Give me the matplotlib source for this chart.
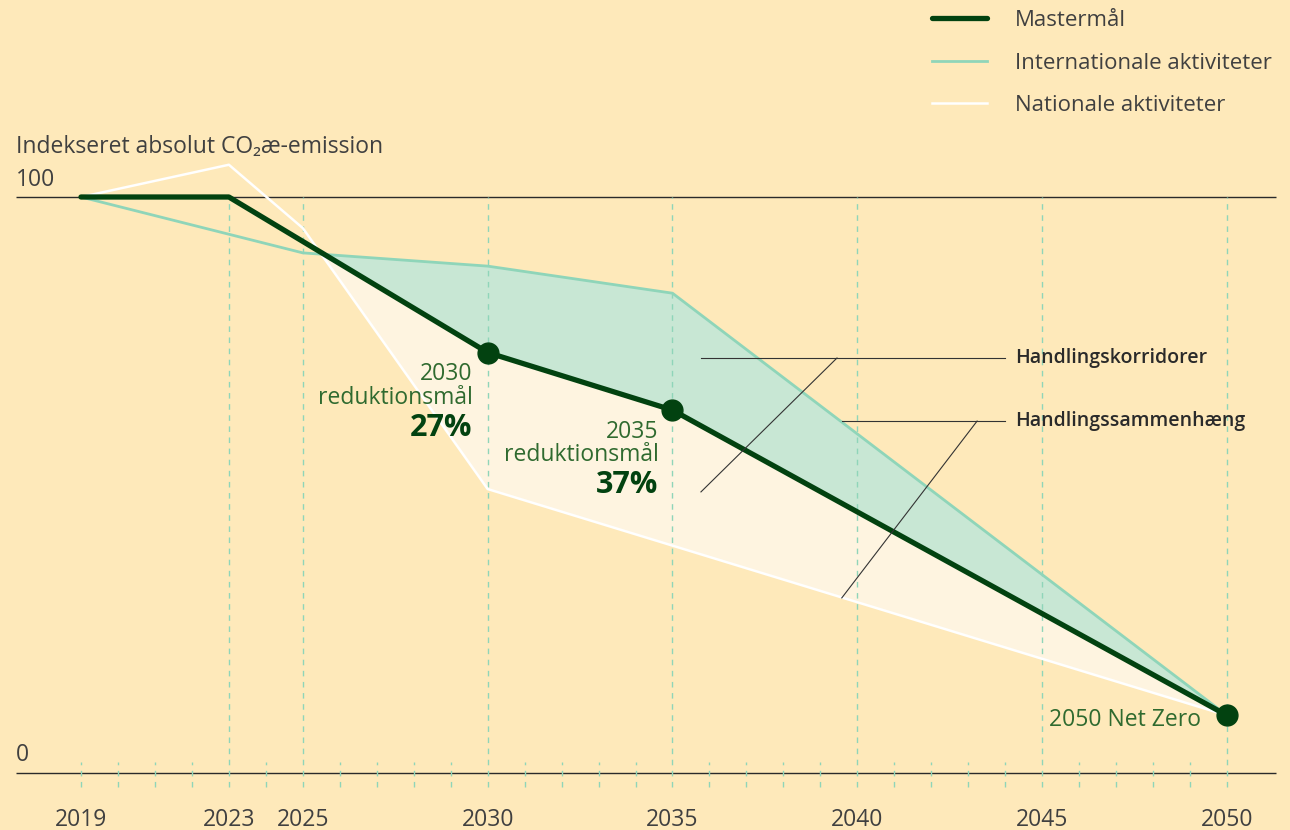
import matplotlib
matplotlib.use('Agg')
import matplotlib.pyplot as plt
import numpy as np

plt.rcParams['font.family'] = ['Open Sans', 'DejaVu Sans']

# data
master_years = [2019, 2023, 2030, 2035, 2050]
master_vals = [100, 100, 73, 63, 10]
intl_years = [2019, 2025, 2030, 2035, 2050]
intl_vals = [100, 90.3, 88.0, 83.3, 10]
nat_years = [2019, 2023, 2025, 2030, 2050]
nat_vals = [100, 105.6, 94.6, 49.3, 10]
goal_years = [2030, 2035, 2050]
goal_vals = [73, 63, 10]
label_years = [2019, 2023, 2025, 2030, 2035, 2040, 2045, 2050]
grid_years = [2023, 2025, 2030, 2035, 2040, 2045, 2050]

bg = '#FEE9BA'
dark = '#024210'
teal = '#8FD5B9'
green_fill = '#C8E7D4'
cream_fill = '#FEF4E0'
txt = '#404040'
gtxt = '#2f6a2f'

fig = plt.figure(figsize=(12.9, 8.3), dpi=100, facecolor=bg)
ax = fig.add_axes([0, 0, 1, 1])
ax.set_facecolor(bg)
px = 36.97  # pixels per year
py = 5.76   # pixels per unit
ax.set_xlim(2019 - 81 / px, 2050 + (1290 - 1227) / px)
ax.set_ylim(-(830 - 773) / py, 773 / py)
ax.axis('off')

# fills between series
xs = np.array(sorted(set(master_years + intl_years + nat_years)), dtype=float)
m = np.interp(xs, master_years, master_vals)
i = np.interp(xs, intl_years, intl_vals)
n = np.interp(xs, nat_years, nat_vals)
ax.fill_between(xs, m, i, where=i >= m, interpolate=True, color=green_fill, lw=0, zorder=1)
ax.fill_between(xs, n, m, where=m >= n, interpolate=True, color=cream_fill, lw=0, zorder=1)

# grid / ticks
x0, x1 = 2019 - 65 / px, 2050 + 49 / px
ax.hlines([0, 100], x0, x1, color='#2a2a2a', lw=1, zorder=2)
for yr in range(2019, 2051):
    if yr in grid_years:
        ax.vlines(yr, -14 / py, 100, color=teal, lw=1, linestyles=(0, (4, 4)), zorder=2)
    else:
        ax.vlines(yr, -14 / py, 11 / py, color=teal, lw=1, linestyles=(0, (4, 4)), zorder=2)

# lines
ax.plot(nat_years, nat_vals, color='white', lw=1.8, zorder=3, label='Nationale aktiviteter')
ax.plot(intl_years, intl_vals, color=teal, lw=2, zorder=3, label='Internationale aktiviteter')
ax.plot(master_years, master_vals, color=dark, lw=3.8, zorder=4, label='Mastermål',
        solid_capstyle='round')
ax.plot(goal_years, goal_vals, 'o', color=dark, ms=15, zorder=5)

h, l = ax.get_legend_handles_labels()
leg = ax.legend(h[::-1], l[::-1], loc='upper left', bbox_to_anchor=(932 / 1290, 1 - 10 / 830),
                frameon=False, fontsize=16, handlelength=2.48, handletextpad=1.26,
                labelspacing=0.97, borderpad=0, borderaxespad=0)
for t in leg.get_texts():
    t.set_color(txt)

# axis texts
fs = 16.5
ax.text(x0, (773 - 147) / py, 'Indekseret absolut CO₂æ-emission', fontsize=fs, color=txt,
        ha='left', va='center')
ax.text(x0, (773 - 180) / py, '100', fontsize=fs, color=txt, ha='left', va='center')
ax.text(x0, (773 - 755) / py, '0', fontsize=fs, color=txt, ha='left', va='center')
for yr in label_years:
    ax.text(yr, -(820 - 773) / py, str(yr), fontsize=fs, color=txt, ha='center', va='center')

# goal annotations
ax.text(2030 - 15 / px, (773 - 374) / py, '2030', fontsize=fs, color=gtxt, ha='right', va='center')
ax.text(2030 - 15 / px, (773 - 398) / py, 'reduktionsmål', fontsize=fs, color=gtxt, ha='right', va='center')
ax.text(2030 - 15 / px, (773 - 428) / py, '27%', fontsize=22, color=dark, fontweight='bold',
        ha='right', va='center')
ax.text(2035 - 14 / px, (773 - 432) / py, '2035', fontsize=fs, color=gtxt, ha='right', va='center')
ax.text(2035 - 14 / px, (773 - 455) / py, 'reduktionsmål', fontsize=fs, color=gtxt, ha='right', va='center')
ax.text(2035 - 14 / px, (773 - 485) / py, '37%', fontsize=22, color=dark, fontweight='bold',
        ha='right', va='center')
ax.text(2050 - 26 / px, (773 - 720) / py, '2050 Net Zero', fontsize=fs, color=gtxt, ha='right', va='center')

# corridor callouts
ax.plot([2035.77, 2043.99], [72.05, 72.05], color='#333333', lw=0.8, zorder=6)
ax.plot([2035.77, 2039.45], [48.8, 72.05], color='#333333', lw=0.8, zorder=6)
ax.plot([2039.58, 2043.99], [61.1, 61.1], color='#333333', lw=0.8, zorder=6)
ax.plot([2039.58, 2043.24], [30.4, 61.1], color='#333333', lw=0.8, zorder=6)
ax.text(2044.26, 72.05, 'Handlingskorridorer', fontsize=14, color='#2a2a2a', fontweight='semibold',
        ha='left', va='center')
ax.text(2044.26, 61.1, 'Handlingssammenhæng', fontsize=14, color='#2a2a2a', fontweight='semibold',
        ha='left', va='center')

fig.savefig('out.png', dpi=100, facecolor=bg)
